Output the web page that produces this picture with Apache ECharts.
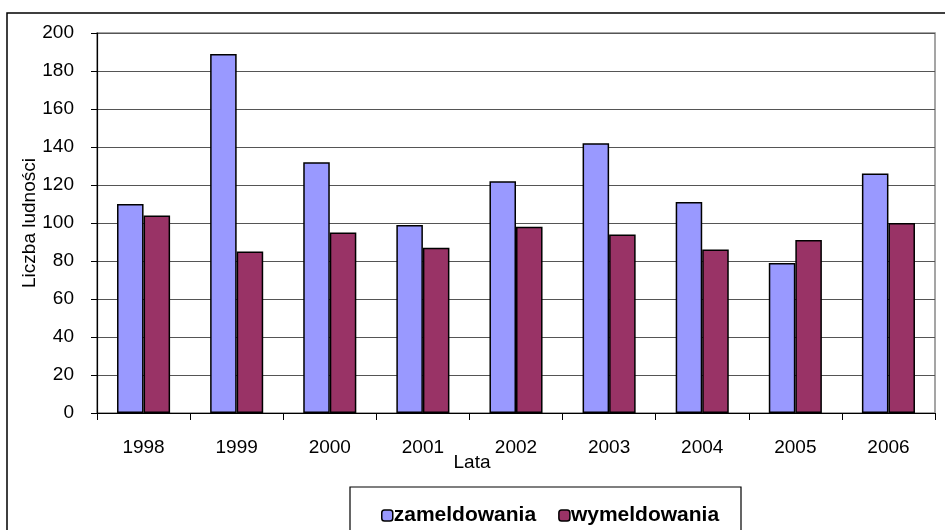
<!DOCTYPE html>
<html><head><meta charset="utf-8">
<script src="https://cdn.jsdelivr.net/npm/echarts@6/dist/echarts.min.js"></script>
<style>html,body{margin:0;padding:0;background:#fff}#c{width:945px;height:530px}</style>
</head><body><div id="c"></div>
<script>
const categories = ['1998','1999','2000','2001','2002','2003','2004','2005','2006'];
const zameldowania = [110, 189, 132, 99, 122, 142, 111, 79, 126];
const wymeldowania = [104, 85, 95, 87, 98, 94, 86, 91, 100];
const seriesNames = ['zameldowania', 'wymeldowania'];
const yTicks = {min: 0, max: 200, interval: 20};

const font = 'Liberation Sans, Arial, sans-serif';
const chart = echarts.init(document.getElementById('c'), null, {renderer: 'canvas'});
chart.setOption({
  backgroundColor: '#ffffff',
  animation: false,
  graphic: [
    {type: 'rect', shape: {x: 7, y: 13, width: 950, height: 540}, style: {fill: 'none', stroke: '#000', lineWidth: 1.5}, z: -1},
    {type: 'rect', shape: {x: 350, y: 487, width: 391, height: 60}, style: {fill: '#fff', stroke: '#000', lineWidth: 1.2}, z: 0}
  ],
  grid: {left: 97, right: 10, top: 33, bottom: 117, show: true, borderColor: '#888', borderWidth: 1.5, backgroundColor: '#fff'},
  legend: {
    data: seriesNames, left: 376, top: 500, itemGap: 22, itemWidth: 11, itemHeight: 11, z: 5,
    textStyle: {fontFamily: font, fontSize: 21, fontWeight: 'bold', color: '#000', padding: [0, 0, 0, -4]},
    itemStyle: {borderColor: '#000', borderWidth: 1.5}
  },
  xAxis: {
    type: 'category', data: categories,
    name: 'Lata', nameLocation: 'middle', nameGap: 40, nameMoveOverlap: false,
    nameTextStyle: {fontFamily: font, fontSize: 19, color: '#000', padding: [0, 88, 0, 0]},
    axisLine: {lineStyle: {color: '#000', width: 1}},
    axisTick: {show: true, inside: false, length: 7, lineStyle: {color: '#000'}},
    axisLabel: {fontFamily: font, fontSize: 19, color: '#000', margin: 25}
  },
  yAxis: {
    type: 'value', min: yTicks.min, max: yTicks.max, interval: yTicks.interval,
    name: 'Liczba ludności', nameLocation: 'middle', nameGap: 58, nameRotate: 90, nameMoveOverlap: false,
    nameTextStyle: {fontFamily: font, fontSize: 19, color: '#000'},
    axisLine: {show: true, lineStyle: {color: '#000', width: 1.2}},
    axisTick: {show: true, length: 6, lineStyle: {color: '#000'}},
    axisLabel: {fontFamily: font, fontSize: 19, color: '#000', margin: 23},
    splitLine: {show: true, lineStyle: {color: '#555', width: 1.2}}
  },
  series: [
    {name: seriesNames[0], type: 'bar', data: zameldowania, barGap: '0%', barCategoryGap: '43%',
     itemStyle: {color: '#9999FF', borderColor: '#000', borderWidth: 1.5}},
    {name: seriesNames[1], type: 'bar', data: wymeldowania,
     itemStyle: {color: '#993366', borderColor: '#000', borderWidth: 1.5}}
  ]
});
</script></body></html>
